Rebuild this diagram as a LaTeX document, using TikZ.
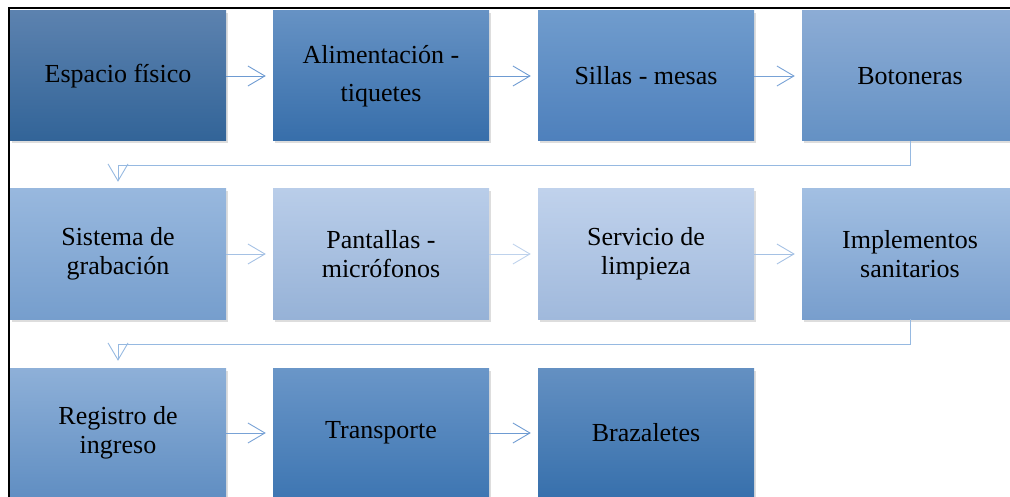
\documentclass[tikz,border=0pt]{standalone}
\usepackage{fontspec}
\setmainfont{Liberation Serif}
\newfontfamily\textoetapa{Liberation Serif}
\usetikzlibrary{arrows.meta,shadows}
\tikzset{
    etapa/.style = {
        rectangle,
        minimum width  = 216pt,
        minimum height = 130pt,
        inner sep = 0pt,
        align = center,
        font = \textoetapa\fontsize{26}{29}\selectfont,
        shading = axis,
        drop shadow = {shadow xshift=2pt, shadow yshift=-2.5pt, opacity=.22, fill=black!60},
    },
    flecha/.style = {
        line width = .9pt,
        -{Straight Barb[length=17pt,width=20pt,line width=.9pt]},
        shorten > = 7pt,
    }
}

\begin{document}
\begin{tikzpicture}[x=1pt,y=-1pt]
  \useasboundingbox (0,0) rectangle (1010,497);
  % Marco
  \draw[line width=2pt] (9,497) -- (9,8.5) -- (1010,8.5);

  % Primera fila
  \node[etapa,top color={rgb,255:red,92;green,130;blue,175},bottom color={rgb,255:red,50;green,100;blue,152}] (EspacioFisico) at (118,76) {Espacio físico};
  \node[etapa,top color={rgb,255:red,102;green,146;blue,196},bottom color={rgb,255:red,55;green,110;blue,170},font=\textoetapa\fontsize{26}{38}\selectfont] (Alimentacion) at (381,76) {Alimentación -\\tiquetes};
  \node[etapa,top color={rgb,255:red,112;green,156;blue,205},bottom color={rgb,255:red,78;green,128;blue,188}] (SillasMesas) at (646,76) {Sillas - mesas};
  \node[etapa,top color={rgb,255:red,140;green,172;blue,213},bottom color={rgb,255:red,100;green,145;blue,196}] (Botoneras) at (910,76) {Botoneras};

  % Segunda fila
  \node[etapa,top color={rgb,255:red,152;green,184;blue,222},bottom color={rgb,255:red,118;green,158;blue,205}] (SistemaGrabacion) at (118,254) {Sistema de\\grabación};
  \node[etapa,top color={rgb,255:red,185;green,205;blue,233},bottom color={rgb,255:red,150;green,178;blue,215}] (Pantallas) at (381,254) {Pantallas -\\micrófonos};
  \node[etapa,top color={rgb,255:red,192;green,210;blue,236},bottom color={rgb,255:red,160;green,185;blue,220}] (ServicioLimpieza) at (646,254) {Servicio de\\limpieza};
  \node[etapa,top color={rgb,255:red,162;green,191;blue,226},bottom color={rgb,255:red,120;green,158;blue,205}] (Implementos) at (910,254) {Implementos\\sanitarios};

  % Tercera fila
  \node[etapa,top color={rgb,255:red,142;green,176;blue,216},bottom color={rgb,255:red,96;green,142;blue,194}] (RegistroIngreso) at (118,433) {Registro de\\ingreso};
  \node[etapa,top color={rgb,255:red,106;green,150;blue,200},bottom color={rgb,255:red,62;green,118;blue,178}] (Transporte) at (381,433) {Transporte};
  \node[etapa,top color={rgb,255:red,100;green,144;blue,194},bottom color={rgb,255:red,55;green,112;blue,172}] (Brazaletes) at (646,433) {Brazaletes};

  % Conectores
  \draw[flecha,draw={rgb,255:red,110;green,155;blue,210}] (EspacioFisico) -- (Alimentacion);
  \draw[flecha,draw={rgb,255:red,110;green,155;blue,210}] (Alimentacion) -- (SillasMesas);
  \draw[flecha,draw={rgb,255:red,120;green,162;blue,214}] (SillasMesas) -- (Botoneras);
  \draw[flecha,draw={rgb,255:red,150;green,185;blue,225},line width=.8pt] (Botoneras.south) -- ++(0,24) -| (SistemaGrabacion.north);

  \draw[flecha,draw={rgb,255:red,165;green,193;blue,228}] (SistemaGrabacion) -- (Pantallas);
  \draw[flecha,draw={rgb,255:red,190;green,210;blue,236}] (Pantallas) -- (ServicioLimpieza);
  \draw[flecha,draw={rgb,255:red,165;green,193;blue,228}] (ServicioLimpieza) -- (Implementos);
  \draw[flecha,draw={rgb,255:red,150;green,185;blue,225},line width=.8pt] (Implementos.south) -- ++(0,25) -| (RegistroIngreso.north);

  \draw[flecha,draw={rgb,255:red,120;green,162;blue,214}] (RegistroIngreso) -- (Transporte);
  \draw[flecha,draw={rgb,255:red,110;green,155;blue,210}] (Transporte) -- (Brazaletes);
\end{tikzpicture}
\end{document}
